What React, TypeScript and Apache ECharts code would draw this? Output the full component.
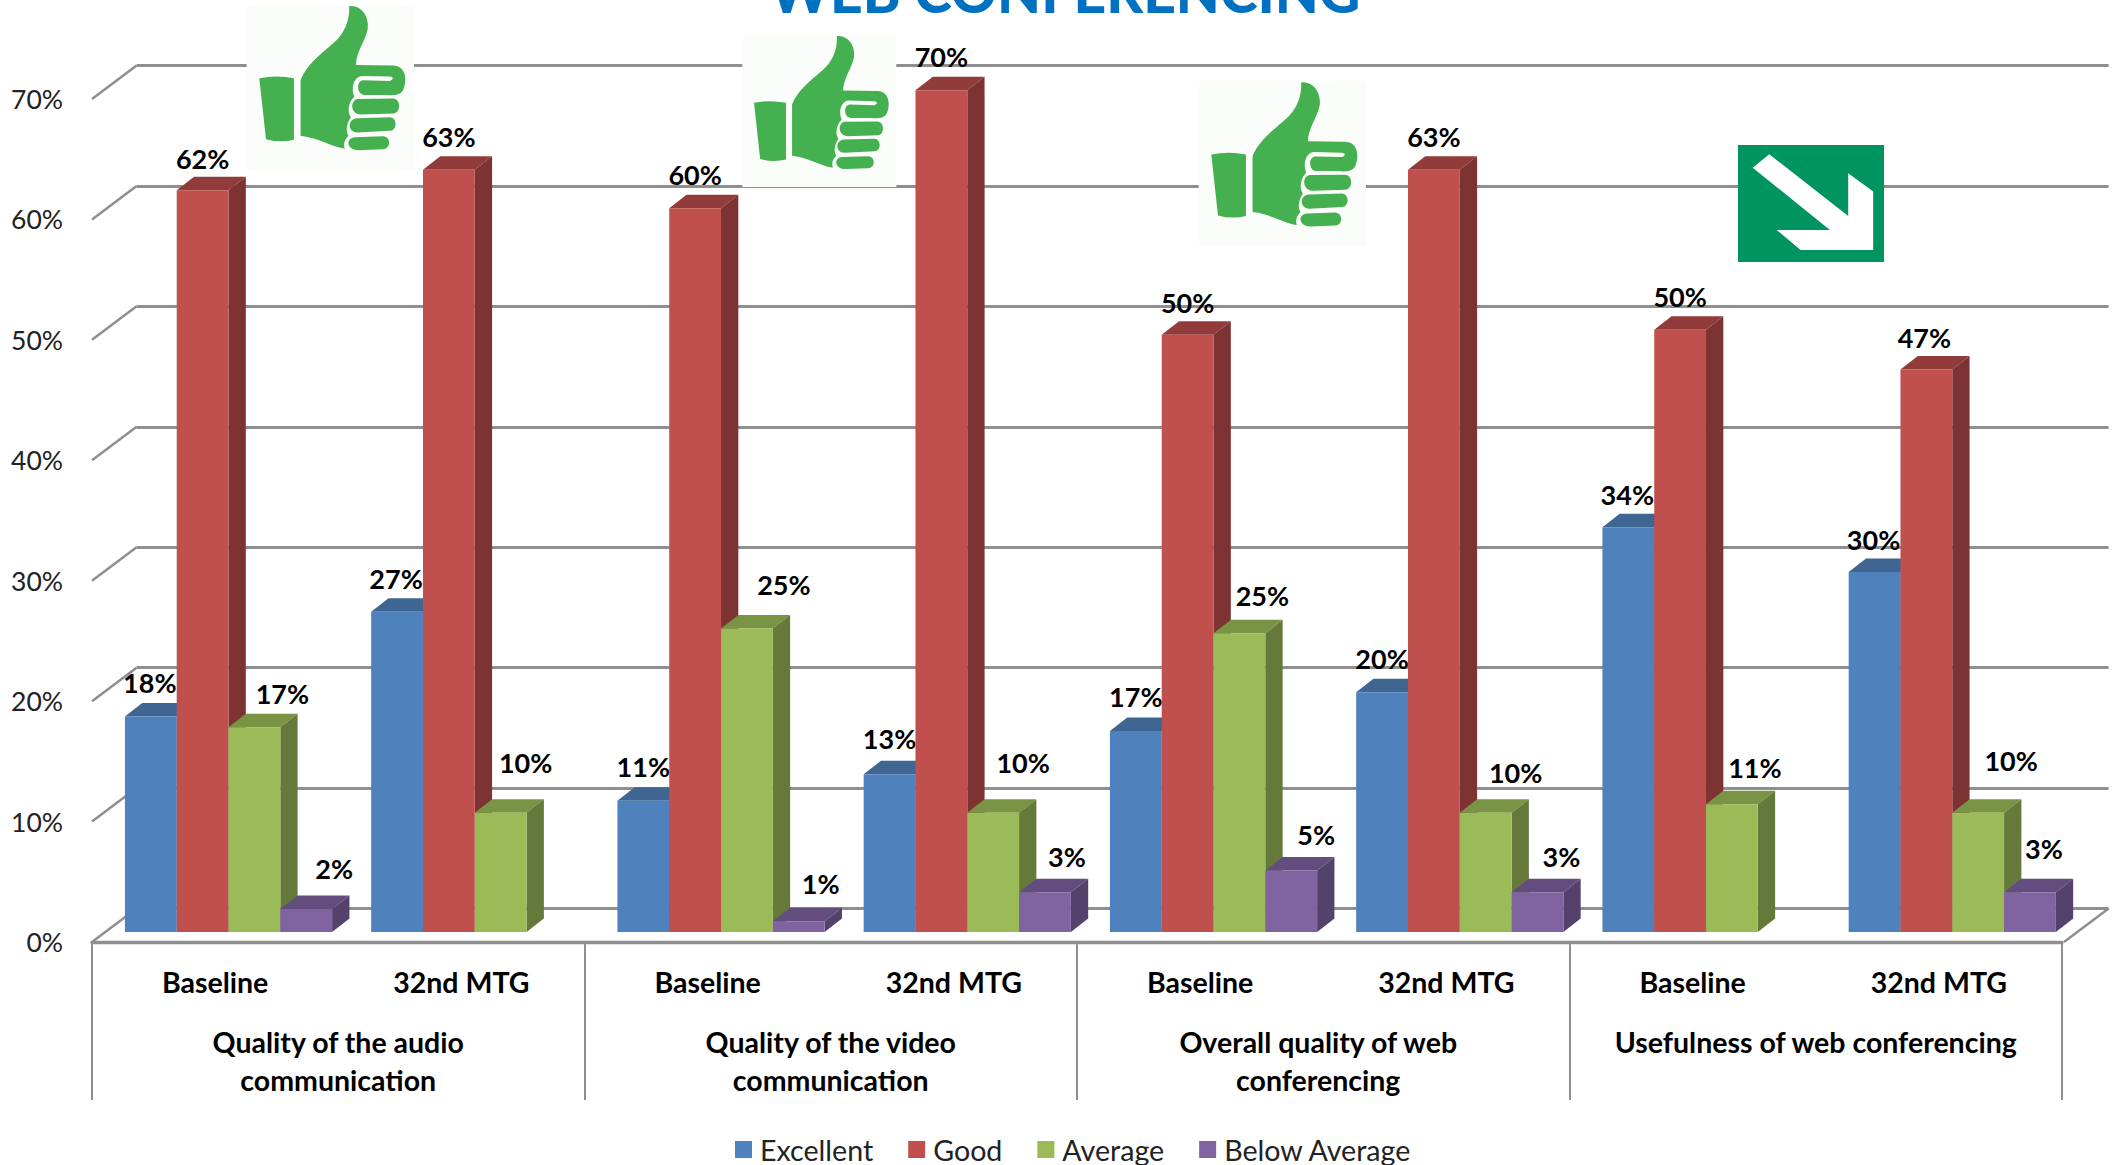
import React, { useEffect, useRef } from "react";
import * as echarts from "echarts";

const title = "WEB CONFERENCING";
const sessions = ["Baseline", "32nd MTG", "Baseline", "32nd MTG", "Baseline", "32nd MTG", "Baseline", "32nd MTG"];
const groups = [
  "Quality of the audio\ncommunication",
  "Quality of the video\ncommunication",
  "Overall quality of web\nconferencing",
  "Usefulness of web conferencing",
];
const ratingNames = ["Excellent", "Good", "Average", "Below Average"];
const excellent = [17.9, 26.6, 10.9, 13.1, 16.7, 19.9, 33.6, 29.9];
const good = [61.6, 63.3, 60.1, 69.9, 49.6, 63.3, 50.0, 46.7];
const average = [17.0, 9.9, 25.2, 9.9, 24.8, 9.9, 10.6, 9.9];
const belowAverage = [1.9, null, 0.9, 3.3, 5.1, 3.3, null, 3.3];
const ticks = [0, 10, 20, 30, 40, 50, 60, 70];

// label nudges, relative to the top of each bar
const labelDx = [
  [-1, -1, 0, 0, 0, 0, -1, -1],
  [0, 0, 0, 0, 0, 0, 0, -2],
  [28, 25, 37, 30, 23, 30, 23, 33],
  [28, 0, 22, 22, 25, 24, 0, 14],
];
const labelDy = [
  [-20, -20, -21, -22, -21, -20, -19, -19],
  [-18, -20, -20, -20, -19, -20, -20, -19],
  [-20, -37, -31, -37, -24, -27, -23, -39],
  [-27, 0, -24, -22, -23, -22, 0, -30],
];

const seriesValues = [excellent, good, average, belowAverage];
const fronts = ["#4F81BD", "#C0504D", "#9BBB59", "#8064A2"];
const tops = ["#3F6593", "#913C3A", "#7A9446", "#634D7F"];
const sides = ["#355679", "#7C3331", "#64793A", "#54426C"];

const FONT = "Lato";
const GRID_COLOR = "#8F8F8F";
const BAR = 51.8;
const DEPTH_X = 17.3;
const DEPTH_Y = 13.5;
const WALL_X = 44.6;
const WALL_Y = 33.5;

const THUMB =
  "M88,235 Q140,225 192,235 L192,420 Q150,430 108,418 Z " +
  "M212,240 C230,195 270,165 310,130 C345,100 360,60 358,18 C395,15 420,50 413,90 C405,125 380,155 378,195 L490,197 C528,198 532,240 522,265 C516,287 490,287 470,285 L405,285 C380,285 378,243 400,241 L480,243 C492,238 492,232 480,230 L395,228 C370,232 363,265 373,290 C353,310 353,340 363,352 C348,375 348,395 356,408 C343,420 340,435 345,447 C300,440 270,415 212,408 Z " +
  "M385,297 L490,296 C514,297 514,340 490,341 L392,344 C360,342 360,299 385,297 Z " +
  "M382,355 L480,352 C503,353 503,392 480,393 L382,398 C352,396 352,357 382,355 Z " +
  "M375,412 L460,409 C484,410 484,447 460,448 L385,451 C348,449 348,414 375,412 Z";
const ARROW = "M118,73 L68,113 L300,300 L140,300 L212,360 L430,360 L430,185 L355,130 L355,258 Z";
echarts.graphic.registerShape("thumbIcon", echarts.graphic.extendPath(THUMB, {}));
echarts.graphic.registerShape("arrowIcon", echarts.graphic.extendPath(ARROW, {}));

function thumb(ox: number, oy: number, s: number) {
  return [
    {
      type: "rect",
      z: 5,
      shape: { x: ox + 50 * s, y: oy + 16 * s, width: 502 * s, height: 494 * s },
      style: { fill: "#FBFDFB" },
    },
    { type: "thumbIcon", z: 6, x: ox, y: oy, scaleX: s, scaleY: s, style: { fill: "#45B04F" } },
  ];
}

function buildOption() {
  const barSeries = seriesValues.map((vals, i) => ({
    type: "bar",
    name: ratingNames[i],
    xAxisIndex: 3,
    yAxisIndex: 2,
    barWidth: BAR,
    barGap: 0,
    z: 10 + 2 * i,
    itemStyle: { color: fronts[i] },
    label: {
      show: true,
      position: "top",
      distance: 0,
      fontFamily: FONT,
      fontWeight: "bold",
      fontSize: 27,
      color: "#000",
      formatter: (p: any) => Math.round(p.value) + "%",
    },
    data: vals.map((v, c) => ({
      value: v,
      label: { offset: [labelDx[i][c], labelDy[i][c]] },
    })),
  }));
  const depthSeries = seriesValues.map((vals, i) => ({
    type: "custom",
    name: ratingNames[i] + " depth",
    xAxisIndex: 3,
    yAxisIndex: 2,
    z: 9 + 2 * i,
    silent: true,
    data: vals.map((v, c) => [c, v]).filter((d) => d[1] != null),
    encode: { x: 0, y: 1 },
    renderItem: (_p: any, api: any) => {
      const [cx, y] = api.coord([api.value(0), api.value(1)]);
      const y0 = api.coord([api.value(0), 0])[1];
      const xl = cx - 2 * BAR + i * BAR;
      const xr = xl + BAR;
      return {
        type: "group",
        children: [
          {
            type: "polygon",
            shape: { points: [[xl, y], [xl + DEPTH_X, y - DEPTH_Y], [xr + DEPTH_X, y - DEPTH_Y], [xr, y]] },
            style: { fill: tops[i] },
          },
          {
            type: "polygon",
            shape: { points: [[xr, y], [xr + DEPTH_X, y - DEPTH_Y], [xr + DEPTH_X, y0 - DEPTH_Y], [xr, y0]] },
            style: { fill: sides[i] },
          },
        ],
      };
    },
  }));
  const wallSeries = {
    type: "custom",
    name: "wall",
    xAxisIndex: 2,
    yAxisIndex: 1,
    z: 1,
    silent: true,
    data: ticks.map((t) => [0, t]),
    encode: { x: 0, y: 1 },
    renderItem: (p: any, api: any) => {
      const y = api.coord([0, api.value(1)])[1];
      const sys = p.coordSys;
      const lineStyle = { stroke: GRID_COLOR, lineWidth: 2.5 };
      const children: any[] = [
        { type: "line", shape: { x1: sys.x, y1: y, x2: sys.x - WALL_X, y2: y + WALL_Y }, style: lineStyle },
      ];
      if (api.value(1) === 0) {
        children.push({
          type: "line",
          shape: { x1: sys.x + sys.width, y1: y, x2: sys.x + sys.width - WALL_X, y2: y + WALL_Y },
          style: lineStyle,
        });
      }
      return { type: "group", children };
    },
  };

  const hiddenX = { type: "category", data: sessions, show: false };
  const hiddenY = { type: "value", min: 0, max: 70, interval: 10, show: false };

  return {
    animation: false,
    backgroundColor: "#fff",
    title: {
      text: title,
      left: 1060,
      textAlign: "center",
      top: -43,
      textStyle: { color: "#0070C0", fontFamily: FONT, fontWeight: 900, fontSize: 57 },
    },
    legend: {
      left: 735,
      top: 1135,
      padding: 0,
      itemWidth: 17,
      itemHeight: 17,
      itemGap: 35,
      icon: "rect",
      data: ratingNames,
      textStyle: { fontFamily: FONT, fontSize: 28.6, lineHeight: 24, color: "#222", padding: [0, 0, 0, 3] },
    },
    grid: [
      { left: 92, top: 99, width: 1970, height: 843 },
      { left: 136.6, top: 65.5, width: 1972, height: 843 },
      { left: 105.4, top: 89, width: 1970, height: 843 },
    ],
    xAxis: [
      {
        type: "category",
        gridIndex: 0,
        data: sessions,
        axisLine: { show: true, lineStyle: { color: GRID_COLOR, width: 3.4 } },
        axisTick: { show: false },
        axisLabel: { interval: 0, margin: 25, fontFamily: FONT, fontWeight: "bold", fontSize: 28.5, color: "#000" },
      },
      {
        type: "category",
        gridIndex: 0,
        position: "bottom",
        data: groups.map((g, i) => (i === 2 ? { value: g, textStyle: { padding: [0, 10, 0, 0] } } : g)),
        axisLine: { show: false },
        axisTick: { show: true, length: 158, lineStyle: { color: GRID_COLOR, width: 2 } },
        axisLabel: {
          interval: 0,
          margin: 81,
          lineHeight: 38,
          fontFamily: FONT,
          fontWeight: "bold",
          fontSize: 28.5,
          color: "#000",
        },
      },
      { ...hiddenX, gridIndex: 1 },
      { ...hiddenX, gridIndex: 2 },
    ],
    yAxis: [
      {
        type: "value",
        gridIndex: 0,
        min: 0,
        max: 70,
        interval: 10,
        axisLine: { show: false },
        axisTick: { show: false },
        splitLine: { show: false },
        axisLabel: { formatter: "{value}%", margin: 29, fontFamily: FONT, fontSize: 26.5, color: "#222" },
      },
      {
        ...hiddenY,
        show: true,
        gridIndex: 1,
        axisLine: { show: false },
        axisTick: { show: false },
        axisLabel: { show: false },
        splitLine: { show: true, lineStyle: { color: GRID_COLOR, width: 3.2 } },
      },
      { ...hiddenY, gridIndex: 2 },
    ],
    graphic: [
      ...thumb(230, 0, 1 / 3),
      ...thumb(727, 30.6, 0.3067),
      ...thumb(1182, 76.2, 1 / 3),
      { type: "rect", z: 5, shape: { x: 1738, y: 145, width: 146, height: 117 }, style: { fill: "#009460" } },
      { type: "arrowIcon", z: 6, x: 1730, y: 130, scaleX: 1 / 3, scaleY: 1 / 3, style: { fill: "#FFFFFF" } },
    ],
    series: [wallSeries, ...depthSeries, ...barSeries],
  };
}

export default function App() {
  const ref = useRef<HTMLDivElement>(null);
  useEffect(() => {
    const chart = echarts.init(ref.current!, undefined, { renderer: "svg" });
    chart.setOption(buildOption() as any);
    return () => chart.dispose();
  }, []);
  return (
    <div
      ref={ref}
      style={{ position: "absolute", left: 0, top: 0, width: 2122, height: 1165, overflow: "hidden" }}
    />
  );
}
